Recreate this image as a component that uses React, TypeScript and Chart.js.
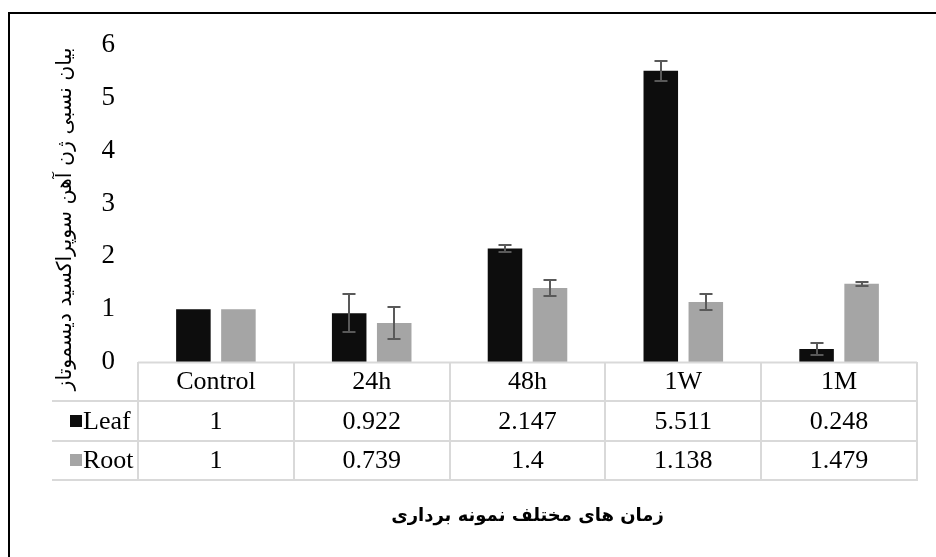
import React, { useEffect, useRef } from 'react';
import { Chart, registerables } from 'chart.js';

Chart.register(...registerables);

const categories = ['Control', '24h', '48h', '1W', '1M'];
const seriesNames = ['Leaf', 'Root'];
const leafValues = [1, 0.922, 2.147, 5.511, 0.248];
const rootValues = [1, 0.739, 1.4, 1.138, 1.479];
const leafErrors = [0, 0.36, 0.07, 0.19, 0.11];
const rootErrors = [0, 0.3, 0.15, 0.15, 0.04];
const yTicks = [0, 1, 2, 3, 4, 5, 6];
const yTitle = 'بیان نسبی ژن آهن سوپراکسید دیسموتاز';
const xTitle = 'زمان های مختلف نمونه برداری';

const LEAF_COLOR = '#0d0d0d';
const ROOT_COLOR = '#a5a5a5';
const ERR_COLOR = '#595959';
const GRID_COLOR = '#d9d9d9';
const SERIF = '"Liberation Serif", "Times New Roman", serif';
const PERSIAN = '"DejaVu Sans", sans-serif';

const seriesValues = [leafValues, rootValues];
const seriesErrors = [leafErrors, rootErrors];
const seriesColors = [LEAF_COLOR, ROOT_COLOR];

const excelPlugin = {
  id: 'excelTable',
  afterDatasetsDraw(chart: any) {
    const ctx = chart.ctx;
    const y = chart.scales.y;
    ctx.save();
    ctx.strokeStyle = ERR_COLOR;
    ctx.lineWidth = 2;
    seriesValues.forEach((vals, di) => {
      const meta = chart.getDatasetMeta(di);
      vals.forEach((v, i) => {
        const e = seriesErrors[di][i];
        if (!e) return;
        const x = Math.round(meta.data[i].x);
        const yt = Math.round(y.getPixelForValue(v + e));
        const yb = Math.round(y.getPixelForValue(v - e));
        ctx.beginPath();
        ctx.moveTo(x, yt);
        ctx.lineTo(x, yb);
        ctx.moveTo(x - 6.5, yt);
        ctx.lineTo(x + 6.5, yt);
        ctx.moveTo(x - 6.5, yb);
        ctx.lineTo(x + 6.5, yb);
        ctx.stroke();
      });
    });
    ctx.restore();
  },
  afterDraw(chart: any) {
    const ctx = chart.ctx;
    const area = chart.chartArea;
    const n = categories.length;
    const colW = (area.right - area.left) / n;
    const top = area.bottom;
    const rowH = 39.3;
    const legendLeft = 52;
    ctx.save();

    // table grid
    ctx.strokeStyle = GRID_COLOR;
    ctx.lineWidth = 2;
    ctx.beginPath();
    ctx.moveTo(area.left, top + 0.5);
    ctx.lineTo(area.right, top + 0.5);
    for (let r = 1; r <= 3; r++) {
      const yy = Math.round(top + r * rowH);
      ctx.moveTo(legendLeft, yy);
      ctx.lineTo(area.right, yy);
    }
    for (let c = 0; c <= n; c++) {
      const xx = Math.round(area.left + c * colW);
      ctx.moveTo(xx, top);
      ctx.lineTo(xx, Math.round(top + 3 * rowH) + 1);
    }
    ctx.stroke();

    // table texts
    ctx.fillStyle = '#000';
    ctx.font = `26px ${SERIF}`;
    ctx.textAlign = 'center';
    ctx.textBaseline = 'middle';
    categories.forEach((cat, i) => {
      const cx = area.left + (i + 0.5) * colW;
      ctx.fillText(cat, cx, top + rowH * 0.5 + 1);
      seriesValues.forEach((vals, di) => {
        ctx.fillText(String(vals[i]), cx, top + rowH * (1.5 + di) + 1);
      });
    });

    // legend keys in table
    ctx.textAlign = 'left';
    seriesNames.forEach((name, di) => {
      const cy = top + rowH * (1.5 + di);
      ctx.fillStyle = seriesColors[di];
      ctx.fillRect(70, Math.round(cy - 6), 12, 12);
      ctx.fillStyle = '#000';
      ctx.fillText(name, 83, cy + 1);
    });

    // axis titles
    ctx.direction = 'rtl';
    ctx.textAlign = 'center';
    ctx.fillStyle = '#000';
    ctx.font = `bold 18px ${PERSIAN}`;
    ctx.fillText(xTitle, (area.left + area.right) / 2, 516);

    ctx.translate(66, 219);
    ctx.rotate(-Math.PI / 2);
    ctx.font = `20.5px ${PERSIAN}`;
    ctx.fillText(yTitle, 0, 0);
    ctx.restore();

    // outer border
    ctx.save();
    ctx.strokeStyle = '#000';
    ctx.lineWidth = 2;
    ctx.beginPath();
    ctx.moveTo(9, chart.height);
    ctx.lineTo(9, 13);
    ctx.lineTo(chart.width, 13);
    ctx.stroke();
    ctx.restore();
  },
};

export default function App() {
  const canvasRef = useRef<HTMLCanvasElement | null>(null);

  useEffect(() => {
    if (!canvasRef.current) return;
    const chart = new Chart(canvasRef.current, {
      type: 'bar',
      data: {
        labels: categories,
        datasets: [
          {
            label: seriesNames[0],
            data: leafValues,
            backgroundColor: LEAF_COLOR,
            categoryPercentage: 0.578,
            barPercentage: 0.767,
          },
          {
            label: seriesNames[1],
            data: rootValues,
            backgroundColor: ROOT_COLOR,
            categoryPercentage: 0.578,
            barPercentage: 0.767,
          },
        ],
      },
      options: {
        animation: false,
        responsive: false,
        devicePixelRatio: 1,
        layout: { padding: { left: 0, right: 19, top: 45, bottom: 195 } },
        plugins: {
          legend: { display: false },
          tooltip: { enabled: false },
          title: { display: false },
        },
        scales: {
          x: { display: false },
          y: {
            min: 0,
            max: 6,
            afterBuildTicks: (axis: any) => {
              axis.ticks = yTicks.map((v) => ({ value: v }));
            },
            afterFit: (axis: any) => {
              axis.width = 138;
            },
            grid: { display: false, drawTicks: false },
            border: { display: false },
            ticks: {
              padding: 23,
              color: '#000',
              font: { family: SERIF, size: 27 },
            },
          },
        },
      },
      plugins: [excelPlugin],
    });
    return () => chart.destroy();
  }, []);

  return (
    <div style={{ position: 'fixed', left: 0, top: 0, width: 936, height: 557, background: '#fff' }}>
      <canvas ref={canvasRef} width={936} height={557} style={{ display: 'block' }} />
    </div>
  );
}
